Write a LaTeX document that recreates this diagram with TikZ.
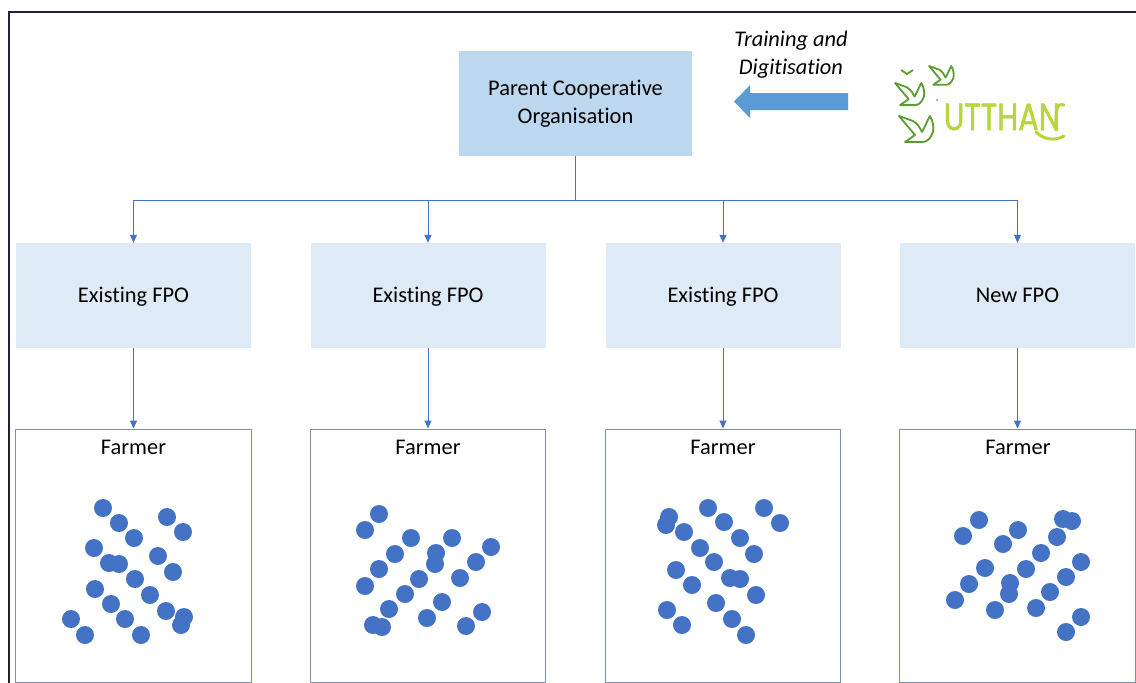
\documentclass[tikz,border=0pt]{standalone}
\usepackage{fontspec}
\setmainfont[Ligatures=NoCommon]{Carlito}
\newfontfamily\logofont[FakeBold=1.2]{Poppins}
\usetikzlibrary{arrows.meta}
\definecolor{parentfill}{HTML}{BDD7EE}
\definecolor{fpofill}{HTML}{DEEBF7}
\definecolor{linkblue}{HTML}{4472C4}
\definecolor{framegrey}{HTML}{7F8FA9}
\definecolor{navy}{HTML}{1F1F3F}
\definecolor{arrowblue}{HTML}{5B9BD5}
\definecolor{birdgreen}{HTML}{5A9E32}
\definecolor{logolime}{HTML}{B5D63C}
\tikzset{
  parentbox/.style={fill=parentfill,minimum width=233pt,minimum height=105pt,align=center,font=\fontsize{22.4}{28}\selectfont,inner sep=0pt},
  fpobox/.style={fill=fpofill,minimum width=235pt,minimum height=105pt,font=\fontsize{22.4}{24}\selectfont,inner sep=0pt,text height=17pt,text depth=3pt},
  farmbox/.style={draw=framegrey,line width=1pt,minimum width=235.5pt,minimum height=253pt,inner sep=0pt},
  farmlabel/.style={font=\fontsize{22.4}{24}\selectfont,inner sep=0pt},
  conn/.style={draw=linkblue,line width=1pt,-{Triangle[length=8pt,width=7pt]}},
  connplain/.style={draw=linkblue,line width=1pt},
  dot/.style={fill=linkblue},
  birdline/.style={draw=birdgreen,line width=1.8pt,line join=round},
  pics/bird/.style={code={
    \draw[birdline] (0,0) -- (14,5) .. controls (19,8) and (21,12) .. (23,16)
      .. controls (26,11) and (28,5) .. (31,0) .. controls (34,5) and (35,11) .. (34,16)
      .. controls (32,22) and (28,26) .. (24,26) -- (6,26) -- (16,19) -- cycle;
  }}
}
\begin{document}
\begin{tikzpicture}[x=1pt,y=-1pt]
\useasboundingbox (0,0) rectangle (1136,683);
\fill[white] (0,0) rectangle (1136,683);
\draw[navy,line width=1.5pt] (9,683) -- (9,12) -- (1136,12);

\node[parentbox] (parent) at (575.5,103.5) {\raisebox{-1pt}{Parent Cooperative}\\\raisebox{-1pt}{Organisation}};
\coordinate (bus) at (575.5,200.5);

\node[fpobox] (fpoa) at (133.5,295.5) {Existing FPO};
\node[fpobox] (fpob) at (428,295.5) {Existing FPO};
\node[fpobox] (fpoc) at (723,295.5) {Existing FPO};
\node[fpobox] (fpod) at (1017.5,295.5) {New FPO};

\node[farmbox] (farma) at (133.5,555.5) {};
\node[farmbox] (farmb) at (428,555.5) {};
\node[farmbox] (farmc) at (723,555.5) {};
\node[farmbox] (farmd) at (1017.5,555.5) {};

\node[farmlabel] (laba) at (133.5,447.5) {Farmer};
\node[farmlabel] (labb) at (428,447.5) {Farmer};
\node[farmlabel] (labc) at (723,447.5) {Farmer};
\node[farmlabel] (labd) at (1018,447.5) {Farmer};

\draw[connplain] (parent.south) -- (bus);
\foreach \f in {fpoa,fpob,fpoc,fpod}{
  \draw[conn] (bus) -| (\f.north);
}
\foreach \f/\g in {fpoa/farma,fpob/farmb,fpoc/farmc,fpod/farmd}{
  \draw[conn] (\f.south) -- (\g.north);
}

\foreach \x/\y in {103/508,119/523,134/538,167/517,183/532,94/548,109/563,119/564,158/556,173/572,135/579,150/595,95/589,111/604,125/619,141/635,71/619,85/635,166/611,184/617,181/625,
379/514,365/530,411/538,452/538,395/554,436/553,491/547,476/562,435/564,379/569,460/578,419/579,365/586,405/594,442/602,389/609,482/612,427/618,466/626,373/625,382/627,
708/508,669/517,666/525,724/522,684/532,740/538,764/508,780/523,700/548,754/554,714/562,676/570,730/578,740/579,692/585,756/595,716/603,667/610,732/619,682/625,746/635,
979/520,963/536,1018/530,1003/544,1063/519,1072/521,1057/537,1041/553,1081/562,1026/569,985/568,1066/577,1010/583,969/584,1050/592,1009/594,955/600,995/610,1036/608,1081/617,1066/632}{
  \fill[dot] (\x,\y) circle (9);
}

\node[font=\fontsize{22.4}{27.5}\selectfont\itshape,align=center,inner sep=0pt] (train) at (791,54.5) {Training and\\Digitisation};
\fill[arrowblue] (848,93) -- (750,93) -- (750,85) -- (734,101.5) -- (750,118) -- (750,110) -- (848,110) -- cycle;

% logo
\pic at (899,116) {bird};
\pic[scale=.85] at (895,83) {bird};
\pic[scale=.72] at (929,66) {bird};
\draw[birdline] (901,70) -- (907,74) -- (913,70);
\fill[birdgreen] (937,100) circle (1);
\node[font=\fontsize{38}{38}\logofont,text=logolime,inner sep=0pt,xscale=.8,anchor=center] (logo) at (1002,117) {UTTHAN};
\draw[logolime,line width=3pt,line cap=round] (1036,132) .. controls (1044,140) and (1055,141) .. (1064,136);
\draw[logolime,line width=3pt,line cap=round] (1056,130) .. controls (1056,115) and (1055,102) .. (1064,105);
\end{tikzpicture}
\end{document}
